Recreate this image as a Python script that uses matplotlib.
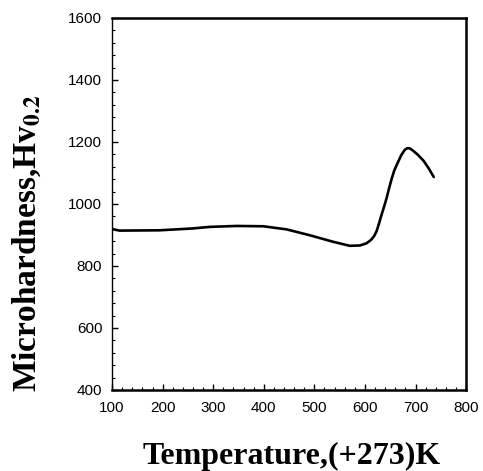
import numpy as np
import matplotlib
matplotlib.use('Agg')
import matplotlib.pyplot as plt
from matplotlib.ticker import MultipleLocator

plt.rcParams['mathtext.fontset'] = 'stix'

# curve
temp = [100, 115, 194, 260, 293, 346, 399, 445, 491, 537, 570, 590, 603,
        612, 618, 623, 628, 633, 638, 643, 648, 653, 658, 664, 672, 679,
        684, 689, 695, 705, 716, 726, 736]
hv = [919, 914, 915, 921, 926, 929, 928, 918, 899, 878, 865, 866, 873,
      884, 896, 912, 938, 966, 992, 1020, 1052, 1082, 1108, 1130, 1158, 1175,
      1180, 1179, 1172, 1158, 1139, 1115, 1087]

xticks = [100, 200, 300, 400, 500, 600, 700, 800]
yticks = [400, 600, 800, 1000, 1200, 1400, 1600]

fig = plt.figure(figsize=(4.83, 4.71), dpi=100)
ax = fig.add_axes([0.232, 0.172, 0.733, 0.790])

ax.plot(temp, hv, color='black', lw=1.9, solid_capstyle='round',
        solid_joinstyle='round')

ax.set_xlim(100, 800)
ax.set_ylim(400, 1600)
ax.set_xticks(xticks)
ax.set_yticks(yticks)
ax.xaxis.set_minor_locator(MultipleLocator(20))
ax.yaxis.set_minor_locator(MultipleLocator(40))
ax.tick_params(which='both', direction='in', color='black')
ax.tick_params(which='major', length=4, width=1)
ax.tick_params(which='minor', length=2.5, width=0.8)
ax.tick_params(axis='x', pad=8)
ax.tick_params(axis='y', pad=7)
for lab in ax.get_xticklabels() + ax.get_yticklabels():
    lab.set_fontfamily('Liberation Sans')
    lab.set_fontsize(11)

ax.spines['left'].set_linewidth(1.0)
for s in ['top', 'right', 'bottom']:
    ax.spines[s].set_linewidth(1.8)

ax.set_xlabel('Temperature,(+273)K', fontfamily='Liberation Serif',
              fontweight='bold', fontsize=23)
ax.xaxis.set_label_coords(0.506, -0.14)
ax.set_ylabel(r'Microhardness,Hv$_{\mathbf{0.2}}$', fontfamily='Liberation Serif',
              fontweight='bold', fontsize=24)
ax.yaxis.set_label_coords(-0.195, 0.395)

fig.savefig('out.png', dpi=100)
